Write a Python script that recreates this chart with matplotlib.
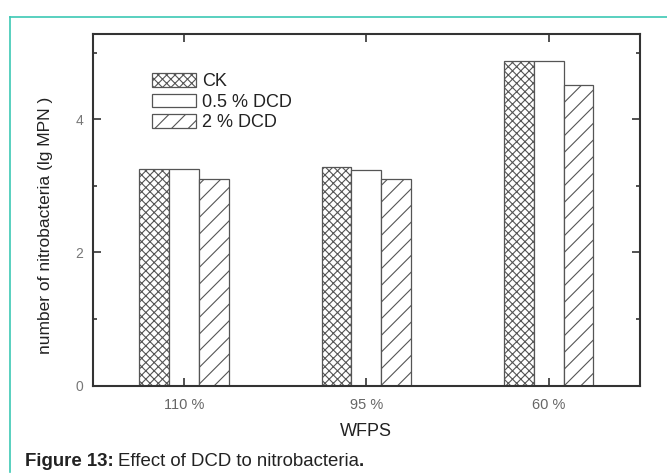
import matplotlib
matplotlib.use("Agg")
import matplotlib.pyplot as plt
import numpy as np
from matplotlib.lines import Line2D

categories = ["110 %", "95 %", "60 %"]
series_names = ["CK", "0.5 % DCD", "2 % DCD"]
ck = [3.25, 3.29, 4.88]
dcd05 = [3.25, 3.24, 4.88]
dcd2 = [3.10, 3.10, 4.52]

plt.rcParams['font.family'] = ['Liberation Sans', 'DejaVu Sans']
plt.rcParams['hatch.linewidth'] = 0.8

fig = plt.figure(figsize=(6.67, 4.75), dpi=100)
ax = fig.add_axes([0.139, 0.188, 0.8205, 0.7404])

x = np.arange(len(categories))
w = 0.163
edge = '#555555'
plt.rcParams['hatch.color'] = '#777777'
b1 = ax.bar(x - w, ck, w, facecolor='white', edgecolor=edge, hatch='xxxx', linewidth=0.9, label=series_names[0])
plt.rcParams['hatch.color'] = '#555555'
b2 = ax.bar(x, dcd05, w, facecolor='white', edgecolor=edge, linewidth=0.9, label=series_names[1])
b3 = ax.bar(x + w, dcd2, w, facecolor='white', edgecolor=edge, hatch='//', linewidth=0.9, label=series_names[2])

ax.set_xlim(-0.5, 2.5)
ax.set_ylim(0, 5.28)
ax.set_xticks(x)
ax.set_xticklabels(categories, fontsize=10.5, color='#666666')
ax.set_yticks([0, 2, 4])
ax.set_yticklabels(['0', '2', '4'], fontsize=10, color='#777777')
ax.set_yticks([1, 3, 5], minor=True)
ax.tick_params(axis='x', which='major', direction='in', length=6, width=1.2, color='#333333',
               top=True, pad=9)
ax.tick_params(axis='y', which='major', direction='in', length=6, width=1.2, color='#333333',
               right=True, pad=7)
ax.tick_params(axis='y', which='minor', direction='in', length=3, width=1.2, color='#333333', right=True)
for s in ax.spines.values():
    s.set_linewidth(1.5)
    s.set_color('#333333')

ax.set_xlabel('WFPS', fontsize=13, color='#222222', labelpad=8)
ax.set_ylabel('number of nitrobacteria (lg MPN )', fontsize=12.5, color='#222222')
ax.yaxis.set_label_coords(-0.073, 0.455)

leg = ax.legend(loc='upper left', bbox_to_anchor=(0.1085, 0.888), frameon=False, fontsize=13,
                handlelength=2.45, handleheight=0.78, labelspacing=0.18, handletextpad=0.3,
                borderpad=0, borderaxespad=0)
for t in leg.get_texts():
    t.set_color('#222222')

# teal page border
teal = '#3cc8b4'
fig.add_artist(Line2D([10/667, 1.0], [1 - 17/475, 1 - 17/475], transform=fig.transFigure, color=teal, linewidth=1.2))
fig.add_artist(Line2D([10/667, 10/667], [1 - 17/475, 1 - 472/475], transform=fig.transFigure, color=teal, linewidth=1.2))

# caption
cy = 1 - 461/475
fs = 13.4
t1 = fig.text(25/667, cy, 'Figure 13:', fontsize=fs, fontweight='bold', color='#222222', va='center')
fig.canvas.draw()
bb = t1.get_window_extent()
t2 = fig.text(bb.x1 / fig.bbox.width + 4/667, cy, 'Effect of DCD to nitrobacteria', fontsize=fs,
              color='#222222', va='center')
fig.canvas.draw()
bb2 = t2.get_window_extent()
fig.text(bb2.x1 / fig.bbox.width, cy, '.', fontsize=fs, fontweight='bold', color='#222222', va='center')

fig.savefig('out.png', dpi=100)
